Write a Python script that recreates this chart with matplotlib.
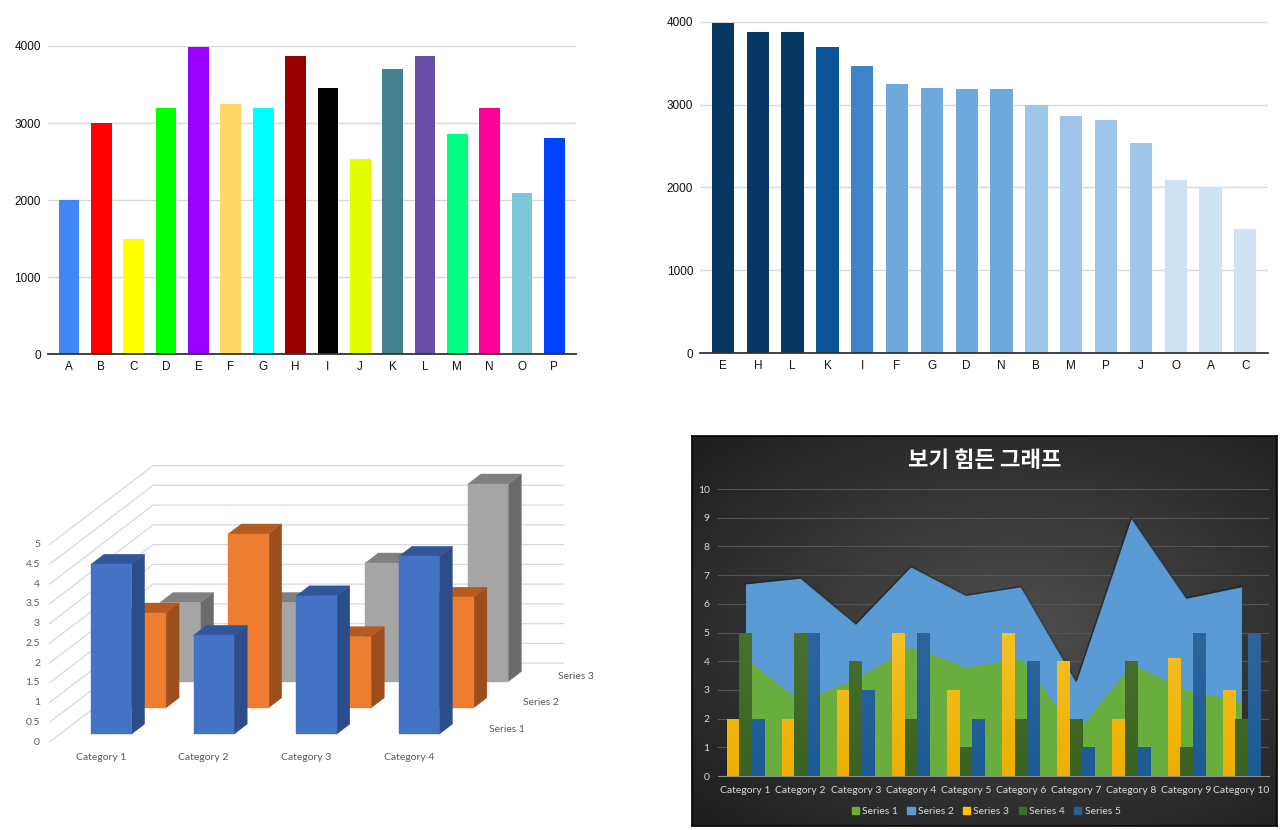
import numpy as np
import matplotlib.pyplot as plt
from matplotlib.patches import Polygon, Patch
from matplotlib.colors import LinearSegmentedColormap

W, H = 1280, 830

# ---- top charts data ----
letters = list("ABCDEFGHIJKLMNOP")
values = [2000, 3000, 1500, 3190, 3990, 3250, 3200, 3870, 3460, 2540, 3700, 3870, 2860, 3190, 2090, 2810]
letter_colors = ['#4285F4', '#FF0000', '#FFFF00', '#00FF00', '#9900FF', '#FFD966', '#00FFFF', '#980000',
                 '#000000', '#E2FF00', '#45818E', '#674EA7', '#00FF80', '#FF0099', '#7EC6DA', '#0042FF']
blue_steps = [0, 2500, 3100, 3400, 3600, 3800]
blue_shades = ['#CFE2F3', '#9FC5E8', '#6FA8DC', '#3D85C6', '#0B5394', '#073763']

# ---- 3d column chart data ----
cats_3d = ['Category 1', 'Category 2', 'Category 3', 'Category 4']
series_3d = ['Series 1', 'Series 2', 'Series 3']
s1_3d = [4.3, 2.5, 3.5, 4.5]
s2_3d = [2.4, 4.4, 1.8, 2.8]
s3_3d = [2, 2, 3, 5]

# ---- dark combo chart data ----
cats_10 = ['Category %d' % i for i in range(1, 11)]
area_s1 = [4.1, 2.6, 3.4, 4.5, 3.8, 4.1, 1.5, 3.9, 3.0, 2.6]
area_s2 = [6.7, 6.9, 5.3, 7.3, 6.3, 6.6, 3.3, 9.0, 6.2, 6.6]
bar_s3 = [2, 2, 3, 5, 3, 5, 4, 2, 4.1, 3]
bar_s4 = [5, 5, 4, 2, 1, 2, 2, 4, 1, 2]
bar_s5 = [2, 5, 3, 5, 2, 4, 1, 1, 5, 5]
combo_names = ['Series 1', 'Series 2', 'Series 3', 'Series 4', 'Series 5']

fig = plt.figure(figsize=(W / 100, H / 100), dpi=100)


def px_axes(x0, y0, x1, y1):
    # axes placed by pixel box (top-left origin)
    return fig.add_axes([x0 / W, 1 - y1 / H, (x1 - x0) / W, (y1 - y0) / H])


def simple_bar_axes(ax, xs, vals, cols, labels):
    ax.bar(xs, vals, width=0.64, color=cols, zorder=2)
    ax.set_xlim(-0.66, 15.66)
    ax.set_ylim(0, 4000)
    ax.set_yticks([0, 1000, 2000, 3000, 4000])
    ax.set_xticks(xs)
    ax.set_xticklabels(labels)
    ax.grid(axis='y', color='#D9D9D9', lw=1)
    ax.set_axisbelow(True)
    for s in ['top', 'right', 'left']:
        ax.spines[s].set_visible(False)
    ax.spines['bottom'].set_color('#333333')
    ax.spines['bottom'].set_linewidth(1.3)
    ax.spines['bottom'].set_zorder(3)
    ax.tick_params(length=0, labelsize=8.5, colors='#111111')
    ax.tick_params(axis='y', pad=5)
    ax.tick_params(axis='x', pad=5)
    for t in ax.get_xticklabels() + ax.get_yticklabels():
        t.set_family('Liberation Sans')


# top-left
ax1 = px_axes(47.7, 46, 575.7, 354.3)
simple_bar_axes(ax1, np.arange(16), values, letter_colors, letters)

# top-right, sorted
order = sorted(range(16), key=lambda i: -values[i])
sorted_vals = [values[i] for i in order]
sorted_lbls = [letters[i] for i in order]
sorted_cols = [blue_shades[np.digitize(v, blue_steps) - 1] for v in sorted_vals]
ax2 = px_axes(700, 21.7, 1268.3, 353.3)
simple_bar_axes(ax2, np.arange(16), sorted_vals, sorted_cols, sorted_lbls)

# ---- bottom-left: 3d columns drawn with an oblique projection ----
ax3 = px_axes(0, 440, 620, 790)
ax3.set_xlim(0, 620)
ax3.set_ylim(790, 440)
ax3.axis('off')

X0, Y0 = 49.6, 742
CAT_W, DX, DY, VS = 102.6, 34.5, -26.3, 39.5
DEPTH = 3.0


def proj(c, d, v):
    return X0 + CAT_W * c + DX * d, Y0 + DY * d - VS * v


grid_vals = np.arange(0, 5.01, 0.5)
for v in grid_vals:
    a = proj(0, 0, v)
    b = proj(0, DEPTH, v)
    e = proj(4, DEPTH, v)
    ax3.plot([a[0], b[0], e[0]], [a[1], b[1], e[1]], color='#D9D9D9', lw=0.9, zorder=1)
    ax3.text(40, a[1], '%g' % v, ha='right', va='center', fontsize=7.5, color='#595959', family='Lato')

face_cols = [('#4472C4', '#2C4D8A', '#30569B'),
             ('#ED7D31', '#9C4E1C', '#B65A1F'),
             ('#A5A5A5', '#6B6B6B', '#808080')]
series_vals = [s1_3d, s2_3d, s3_3d]
bw, bd = 0.394, 0.38
for k in [2, 1, 0]:
    front, side, top = face_cols[k]
    d0 = 0.3 + k
    for c, v in enumerate(series_vals[k]):
        cl = c + 0.5 - bw / 2
        cr = c + 0.5 + bw / 2
        side_pts = [proj(cr, d0, 0), proj(cr, d0 + bd, 0), proj(cr, d0 + bd, v), proj(cr, d0, v)]
        top_pts = [proj(cl, d0, v), proj(cr, d0, v), proj(cr, d0 + bd, v), proj(cl, d0 + bd, v)]
        front_pts = [proj(cl, d0, 0), proj(cr, d0, 0), proj(cr, d0, v), proj(cl, d0, v)]
        ax3.add_patch(Polygon(side_pts, closed=True, fc=side, ec=side, lw=0.3, zorder=2))
        ax3.add_patch(Polygon(top_pts, closed=True, fc=top, ec=top, lw=0.3, zorder=2))
        ax3.add_patch(Polygon(front_pts, closed=True, fc=front, ec=front, lw=0.3, zorder=2))

for c, name in enumerate(cats_3d):
    px, _ = proj(c + 0.5, 0, 0)
    ax3.text(px, 757, name, ha='center', va='center', fontsize=7.5, color='#595959', family='Lato')
for k, name in enumerate(series_3d):
    px, py = proj(4, 0.49 + k, 0)
    ax3.text(px + 12, py, name, ha='left', va='center', fontsize=7.5, color='#595959', family='Lato')

# ---- bottom-right: dark combo chart ----
bg = px_axes(692, 436, 1277, 826)
yy, xx = np.mgrid[0:1:200j, 0:1:300j]
r = np.sqrt(((xx - 0.55) * 1.0) ** 2 + ((yy - 0.5) * 1.1) ** 2)
bg_cmap = LinearSegmentedColormap.from_list('bgc', ['#4E4E4E', '#1F1F1F'])
bg.imshow(np.clip(r / 0.75, 0, 1), cmap=bg_cmap, aspect='auto', extent=[0, 1, 0, 1], vmin=0, vmax=1)
bg.set_xticks([])
bg.set_yticks([])
for s in bg.spines.values():
    s.set_color('#000000')
    s.set_linewidth(1.2)

ax4 = px_axes(718, 489, 1269, 776)
ax4.set_facecolor('none')
x = np.arange(10)
ax4.fill_between(x, area_s2, color='#5B9BD5', lw=0, zorder=1.5)
ax4.plot(x, area_s2, color='#1A1A1A', lw=1.2, alpha=0.55, zorder=1.6)
ax4.fill_between(x, area_s1, color='#6AAD3F', lw=0, zorder=1.7)

bw4 = 0.227
bar_specs = [(bar_s3, -bw4, '#FFD34F', '#EDB000'),
             (bar_s4, 0, '#557F3E', '#3A6322'),
             (bar_s5, bw4, '#4070A4', '#1D5A94')]
for vals, off, ctop, cbot in bar_specs:
    cm = LinearSegmentedColormap.from_list('g', [cbot, ctop])
    bars = ax4.bar(x + off, vals, width=bw4, color=cbot, zorder=3)
    for b in bars:
        x0 = b.get_x()
        im = ax4.imshow(np.linspace(0, 1, 50).reshape(-1, 1), cmap=cm, origin='lower', aspect='auto',
                        extent=[x0, x0 + b.get_width(), 0, 10], zorder=3.1)
        im.set_clip_path(b)

ax4.set_xlim(-0.5, 9.5)
ax4.set_ylim(0, 10)
ax4.set_yticks(range(11))
ax4.set_xticks(x)
ax4.set_xticklabels(cats_10)
ax4.grid(axis='y', color='#555555', lw=0.8)
ax4.set_axisbelow(True)
for s in ['top', 'right', 'left']:
    ax4.spines[s].set_visible(False)
ax4.spines['bottom'].set_color('#8C8C8C')
ax4.spines['bottom'].set_zorder(4)
ax4.tick_params(length=0, labelsize=7.5, colors='#D9D9D9')
ax4.tick_params(axis='y', pad=6)
ax4.tick_params(axis='x', pad=7)
for t in ax4.get_xticklabels() + ax4.get_yticklabels():
    t.set_family('Lato')

fig.text(984.5 / W, 1 - 460 / H, '보기 힘든 그래프', family=['Noto Sans CJK KR', 'DejaVu Sans'],
         weight='bold', fontsize=16, color='white', ha='center', va='center')

handles = [Patch(color=c) for c in ['#6AAD3F', '#5B9BD5', '#FFC000', '#3F6A28', '#255E91']]
fig.legend(handles, combo_names, loc='center', bbox_to_anchor=(986 / W, 1 - 811.7 / H), ncol=5,
           frameon=False, handlelength=0.7, handleheight=0.7, handletextpad=0.3, columnspacing=0.9,
           labelcolor='#D9D9D9', prop={'family': 'Lato', 'size': 7.5})

fig.savefig('out.png', dpi=100)
